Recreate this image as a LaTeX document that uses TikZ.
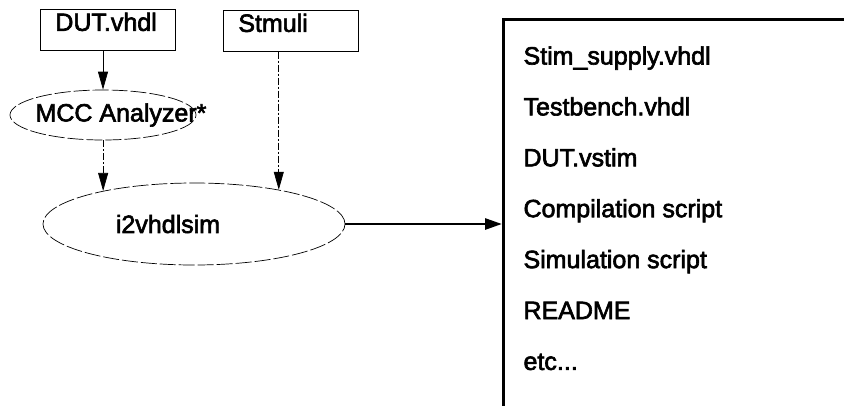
\documentclass[tikz,border=0pt]{standalone}
\usepackage{fontspec}
\setmainfont{Liberation Sans}
\newfontfamily\scanfont{Liberation Sans}[FakeBold=2.5]
\usetikzlibrary{arrows.meta,shapes.geometric}

\tikzset{
  filebox/.style={draw, rectangle, line width=0.7pt, anchor=north west,
    text width=105pt, inner xsep=15pt, inner ysep=3.5pt,
    text height=18pt, text depth=16pt, align=left},
  toolnode/.style={draw, ellipse, line width=0.7pt, inner sep=0pt,
    dash pattern=on 16pt off 3pt},
  feed/.style={line width=0.7pt, -{Triangle[length=18pt,width=10pt]}},
  dashfeed/.style={feed, dash pattern=on 7pt off 2pt on 2pt off 2pt},
  result/.style={line width=2.8pt, -{Triangle[length=17pt,width=11pt]}},
}

\begin{document}
\begin{tikzpicture}[x=1pt, y=-1pt, font=\scanfont\fontsize{25pt}{30pt}\selectfont]

      \useasboundingbox (0,0) rectangle (844,405);
      \clip (0,0) rectangle (844,405);

      \node[filebox] (DUT)    at (40,9)   {DUT.vhdl};
      \node[filebox] (Stmuli) at (223,10) {Stmuli};

      \node[toolnode, minimum width=186pt, minimum height=50pt,
        label={[xshift=18pt]center:MCC Analyzer*}] (MCC) at (103,115) {};
      \node[toolnode, minimum width=302pt, minimum height=82pt,
        label={[xshift=-26pt]center:i2vhdlsim}] (sim) at (194,224) {};

      \node[draw, line width=2.5pt, anchor=north west,
        minimum width=400pt, minimum height=420pt] (outputs) at (502,18) {};

      \begin{scope}[every node/.style={anchor=base west}]
        \node (item1) at (520,64.5)  {Stim\_supply.vhdl};
        \node (item2) at (520,115.4) {Testbench.vhdl};
        \node (item3) at (520,166.3) {DUT.vstim};
        \node (item4) at (520,217.2) {Compilation script};
        \node (item5) at (520,268.1) {Simulation script};
        \node (item6) at (520,319)   {README};
        \node (item7) at (520,369.9) {etc...};
      \end{scope}

      \draw[feed]     (MCC.north |- DUT.south) -- (MCC.north);
      \draw[dashfeed] (sim.160 |- MCC.south) -- (sim.160);
      \draw[dashfeed] (sim.22 |- Stmuli.south) -- (sim.22);
      \draw[result]   (sim.east) -- (sim.east -| outputs.west);

    \end{tikzpicture}
\end{document}
